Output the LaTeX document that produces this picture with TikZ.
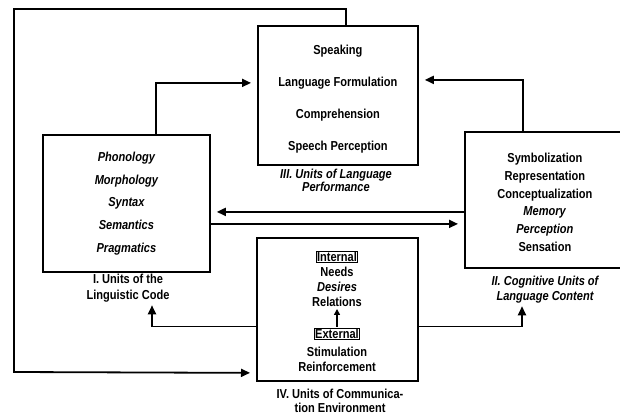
\documentclass[tikz,border=0pt]{standalone}
\usepackage{fontspec}
\setmainfont{Liberation Sans}[FakeStretch=0.85]
\usetikzlibrary{arrows.meta}
\tikzstyle{unit} = [rectangle, draw=black, line width=1.8pt, inner sep=0pt, anchor=north west]
\tikzstyle{items} = [align=center, inner sep=0pt]
\tikzstyle{caption} = [align=center, inner sep=0pt]
\tikzstyle{tag} = [draw=black, line width=1pt, inner sep=1pt]
\tikzstyle{link} = [line width=1.8pt, line join=miter, -{Triangle[length=9pt,width=8pt]}, shorten >=6pt]
\newcommand{\lines}[1]{\fontsize{13}{#1}\selectfont\bfseries}

\begin{document}
\begin{tikzpicture}[x=1pt, y=-1pt]
					\useasboundingbox (0,0) rectangle (620,414);
					\clip (0,0) rectangle (620,414);
					% the four units
					\node[unit, minimum width=167pt, minimum height=137pt] (code) at (42,134) {};
					\node[unit, minimum width=160pt, minimum height=139pt] (perf) at (257,25) {};
					\node[unit, minimum width=160pt, minimum height=136pt] (cog) at (464,131) {};
					\node[unit, minimum width=161pt, minimum height=143pt] (env) at (256,237) {};
					% contents
					\node[items, font=\lines{22.75}\itshape] (codetxt) at (code.center) {Phonology\\ Morphology\\ Syntax\\ Semantics\\ Pragmatics};
					\node[items, font=\lines{32}] (perftxt) at ([yshift=-3.5pt]perf.center) {Speaking\\ Language Formulation\\ Comprehension\\ Speech Perception};
					\node[items, font=\lines{17.8}] (cogtxt) at ([yshift=-2.5pt]cog.center) {Symbolization\\ Representation\\ Conceptualization\\ \textit{Memory}\\ \textit{Perception}\\ Sensation};
					\node[tag, font=\lines{14}] (intag) at (337,257) {Internal};
					\node[items, font=\lines{15}] (inneeds) at (337,287) {Needs\\ \textit{Desires}\\ Relations};
					\node[tag, font=\lines{14}] (extag) at (337,334) {External};
					\node[items, font=\lines{15.5}] (exlist) at (337,359.5) {Stimulation\\ Reinforcement};
					\draw[line width=1.4pt, -{Triangle[length=6pt,width=6pt]}, shorten <=1pt, shorten >=2pt] (extag.north) -- (inneeds.south);
					% captions
					\node[caption, font=\lines{16}] (codecap) at (128,288) {I. Units of the\\ Linguistic Code};
					\node[caption, font=\lines{11}\itshape] (perfcap) at (336,180) {III. Units of Language\\ Performance};
					\node[caption, font=\lines{15}\itshape] (cogcap) at (545,289.5) {II. Cognitive Units of\\ Language Content};
					\node[caption, font=\lines{13.5}] (envcap) at (340,401) {IV. Units of Communica-\\ tion Environment};
					% connectors
					\draw[link] ([xshift=29.5pt]code.north) |- ([yshift=12.5pt]perf.west);
					\draw[link] ([xshift=-22pt]cog.north) |- ([yshift=15.5pt]perf.east);
					\draw[link] ([yshift=-12pt]cog.west) -- ([yshift=-12pt]cog.west -| code.east);
					\draw[link] ([yshift=-20.5pt]code.east) -- ([yshift=-20.5pt]code.east -| cog.west);
					\draw[link, shorten >=3pt] ([yshift=-17pt]env.west) -| ([xshift=24pt]codecap.south);
					\draw[link, shorten >=3pt] ([yshift=-17pt]env.east) -| ([xshift=-23pt]cogcap.south);
					\coordinate (loop) at (14,372);
					\draw[link] ([xshift=8pt]perf.north) -- ++(0,-16) -| (loop) -- ([yshift=-63.5pt]env.west);
				\end{tikzpicture}
\end{document}
